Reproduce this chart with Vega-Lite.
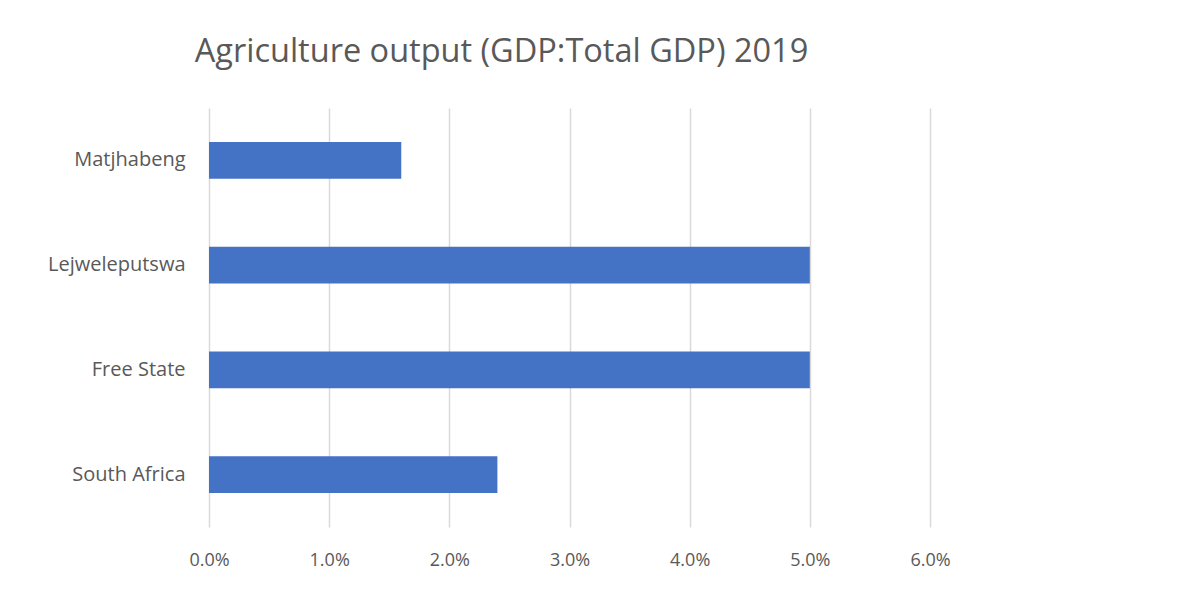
{
  "$schema": "https://vega.github.io/schema/vega-lite/v6.json",
  "autosize": "none",
  "width": 721,
  "height": 419,
  "padding": {"left": 209, "top": 108, "right": 273, "bottom": 84},
  "background": "white",
  "title": {
    "text": "Agriculture output (GDP:Total GDP) 2019",
    "font": "Open Sans",
    "fontSize": 32.5,
    "fontWeight": "normal",
    "color": "#595959",
    "anchor": "middle",
    "baseline": "alphabetic",
    "offset": 14,
    "dx": -68
  },
  "data": {
    "values": [
      {"region": "Matjhabeng", "share": 0.016},
      {"region": "Lejweleputswa", "share": 0.05},
      {"region": "Free State", "share": 0.05},
      {"region": "South Africa", "share": 0.024}
    ]
  },
  "mark": {"type": "bar", "color": "#4472C4"},
  "encoding": {
    "y": {
      "field": "region",
      "type": "nominal",
      "sort": null,
      "scale": {"paddingInner": 0.647, "paddingOuter": 0.3235},
      "axis": {
        "title": null,
        "domain": false,
        "ticks": false,
        "grid": false,
        "labelFont": "Open Sans",
        "labelFontSize": 20,
        "labelColor": "#595959",
        "labelPadding": 24
      }
    },
    "x": {
      "field": "share",
      "type": "quantitative",
      "scale": {"domain": [0, 0.06], "nice": false},
      "axis": {
        "title": null,
        "format": ".1%",
        "values": [0, 0.01, 0.02, 0.03, 0.04, 0.05, 0.06],
        "domain": false,
        "ticks": false,
        "grid": true,
        "gridColor": "#d9d9d9",
        "gridWidth": 1.5,
        "labelFlush": false,
        "labelFont": "Open Sans",
        "labelFontSize": 18,
        "labelColor": "#595959",
        "labelPadding": 24
      }
    }
  },
  "config": {
    "view": {"stroke": null}
  }
}
